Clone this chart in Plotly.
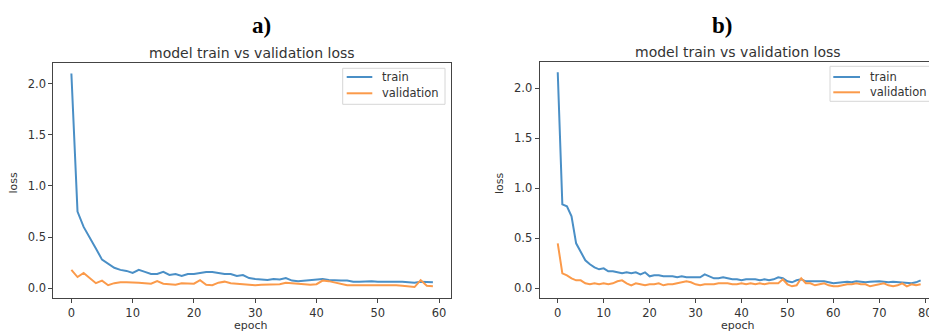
import plotly.graph_objects as go

W, H = 929, 331

epochs_a = list(range(60))
train_a = [2.10, 0.75, 0.60, 0.50, 0.39, 0.28, 0.24, 0.20, 0.18, 0.17,
           0.15, 0.18, 0.16, 0.14, 0.14, 0.16, 0.13, 0.14, 0.12, 0.14,
           0.14, 0.15, 0.16, 0.16, 0.15, 0.14, 0.14, 0.12, 0.13, 0.10,
           0.09, 0.085, 0.08, 0.09, 0.085, 0.10, 0.075, 0.07, 0.075, 0.08,
           0.085, 0.09, 0.08, 0.075, 0.075, 0.075, 0.065, 0.065, 0.07, 0.07,
           0.065, 0.065, 0.07, 0.07, 0.065, 0.06, 0.055, 0.065, 0.06, 0.06]
val_a = [0.18, 0.11, 0.15, 0.10, 0.05, 0.075, 0.03, 0.05, 0.06, 0.06,
         0.06, 0.055, 0.05, 0.045, 0.07, 0.045, 0.04, 0.035, 0.05, 0.05,
         0.045, 0.08, 0.035, 0.03, 0.055, 0.065, 0.05, 0.045, 0.04, 0.035,
         0.03, 0.035, 0.035, 0.04, 0.04, 0.055, 0.05, 0.045, 0.04, 0.035,
         0.04, 0.075, 0.07, 0.055, 0.04, 0.03, 0.03, 0.03, 0.035, 0.035,
         0.03, 0.03, 0.03, 0.03, 0.025, 0.02, 0.012, 0.08, 0.025, 0.02]

epochs_b = list(range(80))
train_b = [2.16, 0.84, 0.82, 0.72, 0.45, 0.37, 0.28, 0.24, 0.21, 0.19,
           0.20, 0.17, 0.17, 0.16, 0.15, 0.16, 0.15, 0.16, 0.14, 0.16,
           0.12, 0.13, 0.13, 0.12, 0.12, 0.12, 0.11, 0.12, 0.11, 0.11,
           0.11, 0.11, 0.14, 0.12, 0.10, 0.10, 0.11, 0.10, 0.09, 0.09,
           0.08, 0.09, 0.09, 0.09, 0.08, 0.09, 0.08, 0.09, 0.11, 0.10,
           0.07, 0.06, 0.08, 0.09, 0.07, 0.07, 0.065, 0.07, 0.07, 0.06,
           0.05, 0.055, 0.06, 0.065, 0.06, 0.07, 0.065, 0.06, 0.065, 0.07,
           0.07, 0.065, 0.06, 0.065, 0.06, 0.06, 0.055, 0.05, 0.06, 0.08]
val_b = [0.45, 0.15, 0.13, 0.10, 0.08, 0.08, 0.05, 0.04, 0.05, 0.04,
         0.05, 0.04, 0.05, 0.07, 0.08, 0.05, 0.03, 0.05, 0.04, 0.03,
         0.04, 0.04, 0.05, 0.03, 0.04, 0.04, 0.05, 0.06, 0.07, 0.06,
         0.04, 0.03, 0.04, 0.04, 0.04, 0.05, 0.05, 0.05, 0.04, 0.04,
         0.05, 0.04, 0.05, 0.04, 0.05, 0.04, 0.05, 0.05, 0.05, 0.09,
         0.04, 0.02, 0.03, 0.10, 0.05, 0.05, 0.03, 0.04, 0.05, 0.03,
         0.02, 0.02, 0.03, 0.04, 0.04, 0.05, 0.04, 0.04, 0.02, 0.03,
         0.04, 0.05, 0.03, 0.02, 0.03, 0.05, 0.02, 0.04, 0.03, 0.04]

panel_labels = ["a)", "b)"]
subplot_title = "model train vs validation loss"
series_names = ["train", "validation"]
x_label = "epoch"
y_label = "loss"
y_ticks = [0.0, 0.5, 1.0, 1.5, 2.0]
x_ticks_a = [0, 10, 20, 30, 40, 50, 60]
x_ticks_b = [0, 10, 20, 30, 40, 50, 60, 70, 80]

BLUE = "#4a8fc6"
ORANGE = "#fb9a4a"
COLORS = [BLUE, ORANGE]
TXT = "#333333"
FONT = "DejaVu Sans"


def px(x):
    return x / W


def py(y):
    return 1 - y / H


fig = go.Figure()
for xs, ys, c, nm in [(epochs_a, train_a, BLUE, "train"), (epochs_a, val_a, ORANGE, "validation")]:
    fig.add_trace(go.Scatter(x=xs, y=ys, name=nm, mode="lines", showlegend=False,
                             line=dict(color=c, width=2), xaxis="x", yaxis="y"))
for xs, ys, c, nm in [(epochs_b, train_b, BLUE, "train"), (epochs_b, val_b, ORANGE, "validation")]:
    fig.add_trace(go.Scatter(x=xs, y=ys, name=nm, mode="lines", showlegend=False,
                             line=dict(color=c, width=2), xaxis="x2", yaxis="y2"))

axis_common = dict(showgrid=False, zeroline=False, showline=True, linecolor="#444444", linewidth=1,
                   ticks="outside", ticklen=4, tickwidth=1, tickcolor="#444444",
                   ticklabeloverflow="allow",
                   tickfont=dict(family=FONT, size=11.5, color=TXT))

fig.update_layout(
    width=W, height=H,
    margin=dict(l=0, r=0, t=0, b=0, autoexpand=False),
    paper_bgcolor="white", plot_bgcolor="white",
    showlegend=False,
    xaxis=dict(domain=[px(53.3), px(451)], range=[-2.95, 61.95], tickvals=x_ticks_a,
               mirror=True, anchor="y", **axis_common),
    yaxis=dict(domain=[py(297.7), py(63.3)], range=[-0.092, 2.199], tickvals=y_ticks, tickformat=".1f",
               mirror=True, anchor="x", **axis_common),
    xaxis2=dict(domain=[px(539.6), 1.0], range=[-3.95, 80.82], tickvals=x_ticks_b,
                mirror=True, anchor="y2", **axis_common),
    yaxis2=dict(domain=[py(297.7), py(61.7)], range=[-0.094, 2.266], tickvals=y_ticks, tickformat=".1f",
                mirror=False, anchor="x2", **axis_common),
)

annotations = []
shapes = []
for cx, lab in [(261, panel_labels[0]), (722, panel_labels[1])]:
    annotations.append(dict(x=px(cx), y=py(25), xref="paper", yref="paper", text="<b>%s</b>" % lab,
                            showarrow=False, xanchor="center", yanchor="middle",
                            font=dict(family="Liberation Serif", size=23, color="black")))
for cx, cy in [(252, 53), (738, 52)]:
    annotations.append(dict(x=px(cx), y=py(cy), xref="paper", yref="paper", text=subplot_title,
                            showarrow=False, xanchor="center", yanchor="middle",
                            font=dict(family=FONT, size=14, color=TXT)))
for cx in [251, 738]:
    annotations.append(dict(x=px(cx), y=py(325), xref="paper", yref="paper", text=x_label,
                            showarrow=False, xanchor="center", yanchor="middle",
                            font=dict(family=FONT, size=11, color=TXT)))
for cx in [13.5, 500]:
    annotations.append(dict(x=px(cx), y=py(183), xref="paper", yref="paper", text=y_label, textangle=-90,
                            showarrow=False, xanchor="center", yanchor="middle",
                            font=dict(family=FONT, size=11, color=TXT)))

# legends (matplotlib-style boxes)
legend_specs = [
    dict(box=(342.7, 68.3, 445, 104.3), line_x=(346.7, 372.3), rows=(77, 93.3), text_x=380),
    dict(box=(830, 66.3, 935, 101.3), line_x=(833.3, 860), rows=(77, 92.3), text_x=868.3),
]
for spec in legend_specs:
    x0, y0, x1, y1 = spec["box"]
    shapes.append(dict(type="rect", xref="paper", yref="paper", x0=px(x0), x1=px(x1), y0=py(y1), y1=py(y0),
                       line=dict(color="#d6d6d6", width=1), fillcolor="white", layer="above"))
    for nm, col, ry in zip(series_names, COLORS, spec["rows"]):
        shapes.append(dict(type="line", xref="paper", yref="paper", x0=px(spec["line_x"][0]),
                           x1=px(spec["line_x"][1]), y0=py(ry), y1=py(ry),
                           line=dict(color=col, width=2), layer="above"))
        annotations.append(dict(x=px(spec["text_x"]), y=py(ry), xref="paper", yref="paper", text=nm,
                                showarrow=False, xanchor="left", yanchor="middle",
                                font=dict(family=FONT, size=11.5, color=TXT)))

fig.update_layout(annotations=annotations, shapes=shapes)

# remove the default 8px page margin so the figure fills the window exactly
fig.write_html("out.html", config={"displayModeBar": False},
               post_script="document.body.style.margin='0';document.body.style.overflow='hidden';")
